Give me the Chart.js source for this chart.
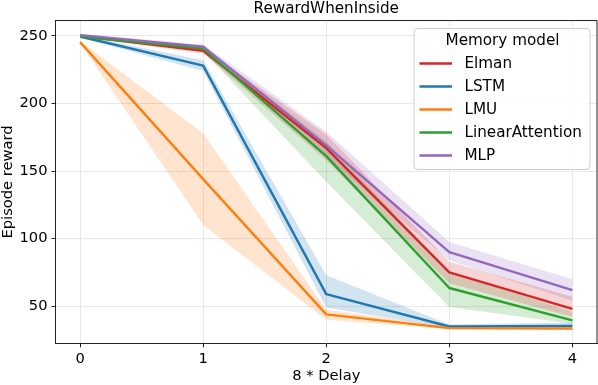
<!DOCTYPE html>
<html>
<head>
<meta charset="utf-8">
<script src="https://cdn.jsdelivr.net/npm/chart.js@4/dist/chart.umd.min.js"></script>
<style>
  html, body { margin: 0; padding: 0; background: #fff; }
  #wrap { width: 598px; height: 385px; }
</style>
</head>
<body>
<div id="wrap"><canvas id="chart" width="598" height="385"></canvas></div>
<script>
const FONT = 'DejaVu Sans';

// x values (8 * Delay) and tick labels
const delays = [0, 1, 2, 3, 4];
const yTicks = [50, 100, 150, 200, 250];

const models = ['Elman', 'LSTM', 'LMU', 'LinearAttention', 'MLP'];
const colors = ['#d62728', '#1f77b4', '#ff7f0e', '#2ca02c', '#9467bd'];

// mean episode reward and the shaded band (low / high)
const elmanMean = [250, 239, 167, 75, 48];
const elmanLow  = [249, 237, 158, 67, 42];
const elmanHigh = [251, 241, 177, 83, 57];

const lstmMean = [249.5, 228, 59, 35, 35.5];
const lstmLow  = [248.5, 224, 49, 34, 34];
const lstmHigh = [250.5, 232, 73, 36.5, 38];

const lmuMean = [245.3, 144, 44, 33.8, 33.5];
const lmuLow  = [244.5, 110, 40, 33, 32.5];
const lmuHigh = [246, 178, 47.5, 35, 35];

const linMean = [249.5, 240.5, 161, 63.5, 39.5];
const linLow  = [248.5, 238.5, 142, 49.5, 37];
const linHigh = [250.5, 242.5, 172, 75, 46];

const mlpMean = [250.5, 242, 169, 90, 62];
const mlpLow  = [249.5, 240, 160, 84, 54];
const mlpHigh = [251.5, 243.5, 179, 97.5, 70];

const series = [
  [elmanMean, elmanLow, elmanHigh],
  [lstmMean, lstmLow, lstmHigh],
  [lmuMean, lmuLow, lmuHigh],
  [linMean, linLow, linHigh],
  [mlpMean, mlpLow, mlpHigh],
];

function pts(arr) {
  return delays.map((x, i) => ({ x, y: arr[i] }));
}

function alpha(hex, a) {
  const n = parseInt(hex.slice(1), 16);
  return `rgba(${n >> 16}, ${(n >> 8) & 255}, ${n & 255}, ${a})`;
}

const datasets = [];
series.forEach(([mean, low, high], i) => {
  datasets.push({
    label: models[i] + ' high',
    data: pts(high),
    borderWidth: 0,
    borderColor: 'transparent',
    backgroundColor: alpha(colors[i], 0.2),
    pointRadius: 0,
    fill: { target: '+1' },
    order: 20,
  });
  datasets.push({
    label: models[i] + ' low',
    data: pts(low),
    borderWidth: 0,
    borderColor: 'transparent',
    pointRadius: 0,
    fill: false,
    order: 20,
  });
  datasets.push({
    label: models[i],
    data: pts(mean),
    borderColor: colors[i],
    borderWidth: 2.4,
    borderJoinStyle: 'round',
    pointRadius: 0,
    fill: false,
    order: 10 - i,
  });
});

// top/right spines
const framePlugin = {
  id: 'frame',
  afterDatasetsDraw(chart) {
    const { ctx, chartArea: a } = chart;
    ctx.save();
    ctx.strokeStyle = '#222';
    ctx.lineWidth = 1;
    ctx.beginPath();
    ctx.moveTo(a.left, a.top);
    ctx.lineTo(a.right, a.top);
    ctx.lineTo(a.right, a.bottom);
    ctx.stroke();
    ctx.restore();
  }
};

// legend box in the upper right
const legendPlugin = {
  id: 'boxLegend',
  afterDraw(chart) {
    const ctx = chart.ctx;
    const x0 = 414, y0 = 28.5, w = 176, h = 141;
    ctx.save();
    ctx.beginPath();
    ctx.roundRect(x0, y0, w, h, 4);
    ctx.fillStyle = 'rgba(255,255,255,0.8)';
    ctx.fill();
    ctx.strokeStyle = '#cccccc';
    ctx.lineWidth = 1;
    ctx.stroke();

    ctx.font = `15.2px ${FONT}`;
    ctx.fillStyle = '#000';
    ctx.textBaseline = 'middle';
    ctx.textAlign = 'center';
    ctx.fillText('Memory model', x0 + w / 2 + 0.5, 41);

    ctx.textAlign = 'left';
    models.forEach((m, i) => {
      const y = 63.5 + i * 23;
      ctx.strokeStyle = colors[i];
      ctx.lineWidth = 2.4;
      ctx.beginPath();
      ctx.moveTo(419.5, y);
      ctx.lineTo(452, y);
      ctx.stroke();
      ctx.fillText(m, 464.5, y + 0.5);
    });
    ctx.restore();
  }
};

new Chart(document.getElementById('chart'), {
  type: 'line',
  data: { datasets },
  options: {
    responsive: false,
    animation: false,
    layout: { padding: { left: 0, right: 1, top: 0, bottom: 0 } },
    plugins: {
      legend: { display: false },
      tooltip: { enabled: false },
      filler: { drawTime: 'beforeDatasetsDraw' },
      title: {
        display: true,
        text: 'RewardWhenInside',
        fullSize: false,
        color: '#000',
        font: { family: FONT, size: 15.2, weight: 'normal', lineHeight: 1.2 },
        padding: { top: 0.3, bottom: 2 },
      },
    },
    scales: {
      x: {
        type: 'linear',
        min: -0.2,
        max: 4.2,
        afterBuildTicks: s => { s.ticks = delays.map(v => ({ value: v })); },
        afterFit: s => { s.height = 41.7; },
        ticks: {
          color: '#000',
          font: { family: FONT, size: 14.7 },
          padding: 3,
          maxRotation: 0,
          callback: v => String(v),
        },
        grid: { color: '#e8e8e8', tickColor: '#222', tickLength: 4 },
        border: { color: '#222', width: 1 },
        title: {
          display: true,
          text: '8 * Delay',
          color: '#000',
          font: { family: FONT, size: 14.7, lineHeight: 1.2 },
          padding: { top: 0, bottom: 0 },
        },
      },
      y: {
        min: 22.6,
        max: 261.3,
        afterBuildTicks: s => { s.ticks = yTicks.map(v => ({ value: v })); },
        afterFit: s => { s.width = 55.5; },
        ticks: {
          color: '#000',
          font: { family: FONT, size: 14.7 },
          padding: 4,
        },
        grid: { color: '#e8e8e8', tickColor: '#222', tickLength: 4 },
        border: { color: '#222', width: 1 },
        title: {
          display: true,
          text: 'Episode reward',
          color: '#000',
          font: { family: FONT, size: 14.7, lineHeight: 1.1 },
          padding: { top: 0, bottom: 0 },
        },
      },
    },
  },
  plugins: [framePlugin, legendPlugin],
});
</script>
</body>
</html>
